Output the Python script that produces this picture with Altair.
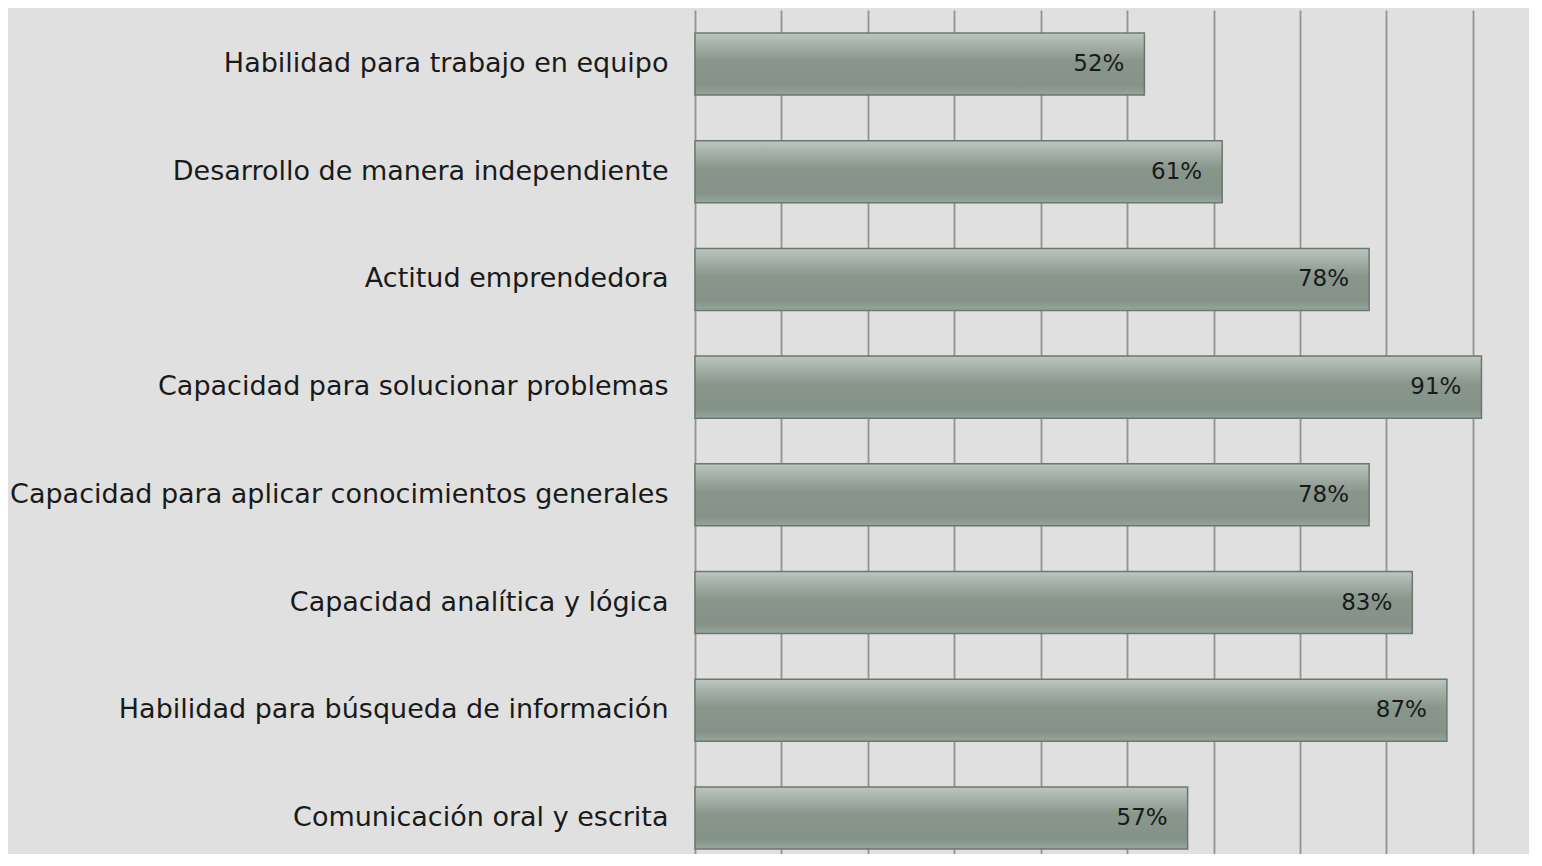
import altair as alt
import pandas as pd

categories = [
    "Habilidad para trabajo en equipo",
    "Desarrollo de manera independiente",
    "Actitud emprendedora",
    "Capacidad para solucionar problemas",
    "Capacidad para aplicar conocimientos generales",
    "Capacidad analítica y lógica",
    "Habilidad para búsqueda de información",
    "Comunicación oral y escrita",
]
values = [52, 61, 78, 91, 78, 83, 87, 57]
grid_ticks = [0, 10, 20, 30, 40, 50, 60, 70, 80, 90]

df = pd.DataFrame({"cat": categories, "val": values})
df["label"] = df["val"].astype(str) + "%"

FONT = "DejaVu Sans"

gradient = {
    "gradient": "linear",
    "x1": 0, "y1": 0, "x2": 0, "y2": 1,
    "stops": [
        {"offset": 0.0, "color": "#bdc7c0"},
        {"offset": 0.15, "color": "#aab5ad"},
        {"offset": 0.45, "color": "#88968c"},
        {"offset": 0.85, "color": "#849289"},
        {"offset": 1.0, "color": "#98a79c"},
    ],
}

yscale = alt.Scale(domain=categories, paddingInner=0.424, paddingOuter=0.13, align=0.82)
xscale = alt.Scale(domain=[0, 96.5], nice=False, zero=True)

base = alt.Chart(df)

bars = base.mark_bar(color=gradient, stroke="#6c776f", strokeWidth=1.5).encode(
    y=alt.Y("cat:N", scale=yscale, sort=categories,
            axis=alt.Axis(title=None, ticks=False, domain=False, grid=False,
                          labelFont=FONT, labelFontSize=27, labelColor="#1a1a1a",
                          labelPadding=27, labelLimit=0)),
    x=alt.X("val:Q", scale=xscale,
            axis=alt.Axis(title=None, values=grid_ticks, labels=False, ticks=False,
                          domain=False, grid=True, gridColor="#939393", gridWidth=1.8)),
)

text = base.mark_text(align="right", baseline="middle", dx=-20, font=FONT,
                      fontSize=23, color="#1a1a1a").encode(
    y=alt.Y("cat:N", scale=yscale, sort=categories),
    x=alt.X("val:Q", scale=xscale),
    text="label:N",
)

chart = (bars + text).properties(
    width=834,
    height=844,
    background="#e0e0e0",
    padding={"left": 687, "top": 2, "right": 0, "bottom": 0},
    autosize=alt.AutoSizeParams(type="none"),
).configure_view(stroke=None)

chart.save("out.html", embed_options={"renderer": "svg", "actions": False})
